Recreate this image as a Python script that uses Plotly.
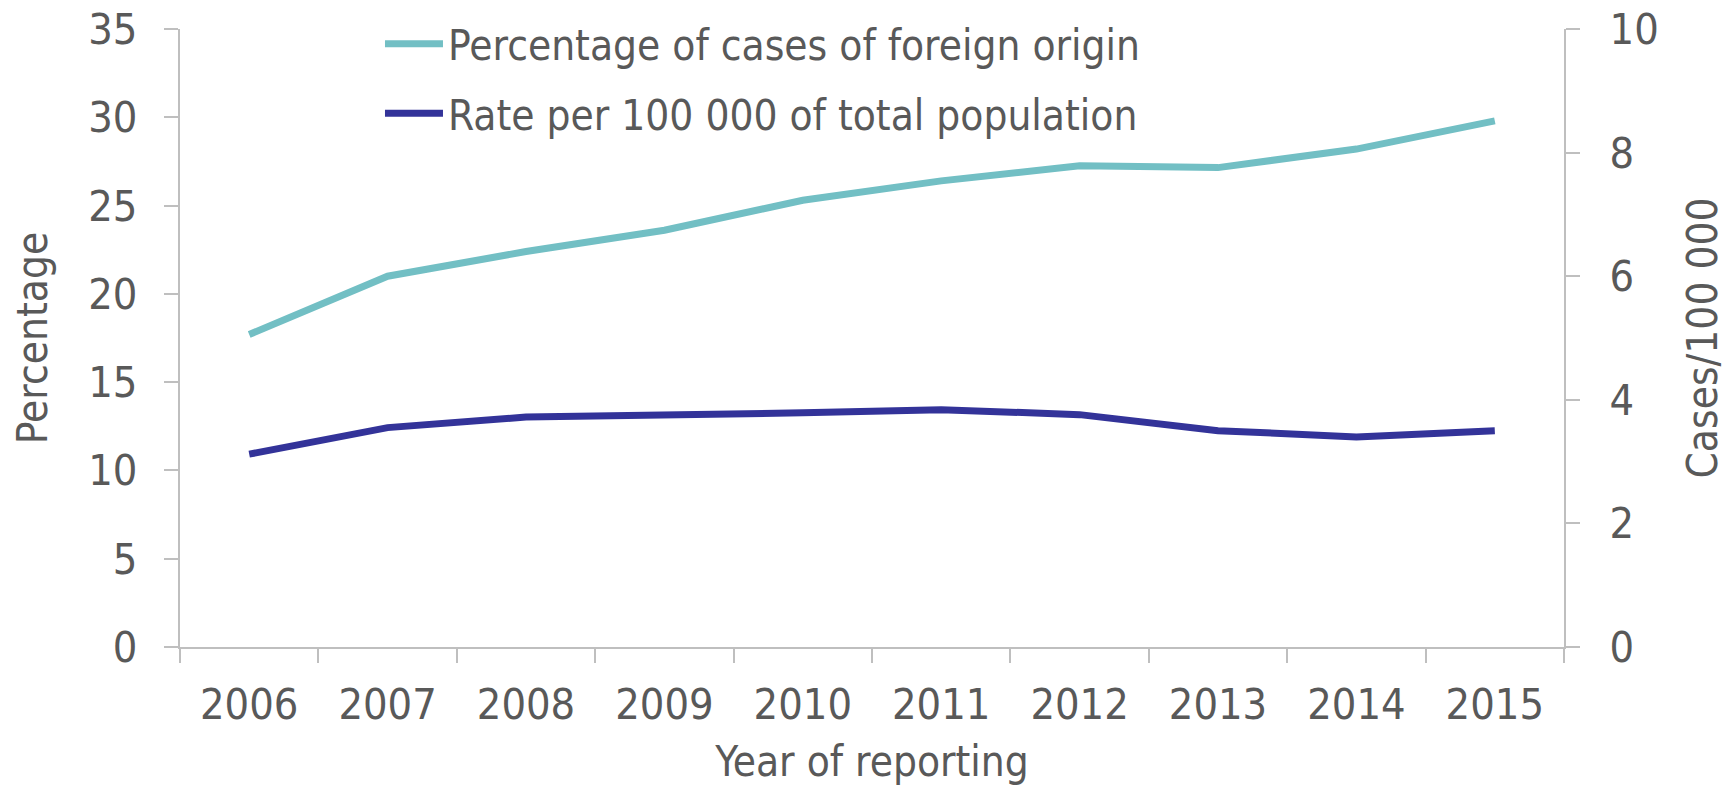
import plotly.graph_objects as go

years = ["2006", "2007", "2008", "2009", "2010", "2011", "2012", "2013", "2014", "2015"]
pct_foreign = [17.7, 21.0, 22.4, 23.6, 25.3, 26.4, 27.25, 27.15, 28.2, 29.8]
rate_per_100k = [3.12, 3.55, 3.72, 3.75, 3.79, 3.84, 3.76, 3.50, 3.40, 3.50]

FONT = "DejaVu Sans Condensed, Liberation Sans Narrow, DejaVu Sans, sans-serif"
TXT = "#595959"
AX = "#BFBFBF"

fig = go.Figure()
fig.add_trace(go.Scatter(x=years, y=pct_foreign, mode="lines", legendgroup="a",
                         name="Percentage of cases of foreign origin",
                         line=dict(color="#72BFC4", width=7)))
fig.add_trace(go.Scatter(x=years, y=rate_per_100k, mode="lines", yaxis="y2", legendgroup="b",
                         name="Rate per 100 000 of total population",
                         line=dict(color="#333399", width=7)))

axis_common = dict(showline=True, linecolor=AX, linewidth=2,
                   ticks="outside", ticklen=14, tickcolor=AX, tickwidth=2,
                   showgrid=False, zeroline=False, automargin=False,
                   ticklabeloverflow="allow",
                   tickfont=dict(size=43, color=TXT))

fig.update_layout(
    width=1732, height=785,
    paper_bgcolor="white", plot_bgcolor="white",
    margin=dict(l=172, r=176, t=21, b=146, autoexpand=False),
    font=dict(family=FONT, size=42, color=TXT),
    showlegend=True,
    legend=dict(x=0.1445, y=1.031, xanchor="left", yanchor="top",
                bgcolor="rgba(0,0,0,0)", font=dict(size=42, color=TXT),
                itemwidth=58, tracegroupgap=12),
    xaxis=dict(type="category", range=[-0.5, 9.5], tickson="boundaries",
               ticklabelstandoff=18,
               title=dict(text="Year of reporting", font=dict(size=42, color=TXT), standoff=19),
               **axis_common),
    yaxis=dict(range=[0, 35], dtick=5, ticklabelstandoff=18,
               title=dict(text="Percentage", font=dict(size=42, color=TXT), standoff=38),
               **axis_common),
    yaxis2=dict(range=[0, 10], dtick=2, overlaying="y", side="right", ticklabelstandoff=21,
                title=dict(text="Cases/100 000", font=dict(size=42, color=TXT), standoff=30),
                **axis_common),
)

fig.write_html("out.html")
